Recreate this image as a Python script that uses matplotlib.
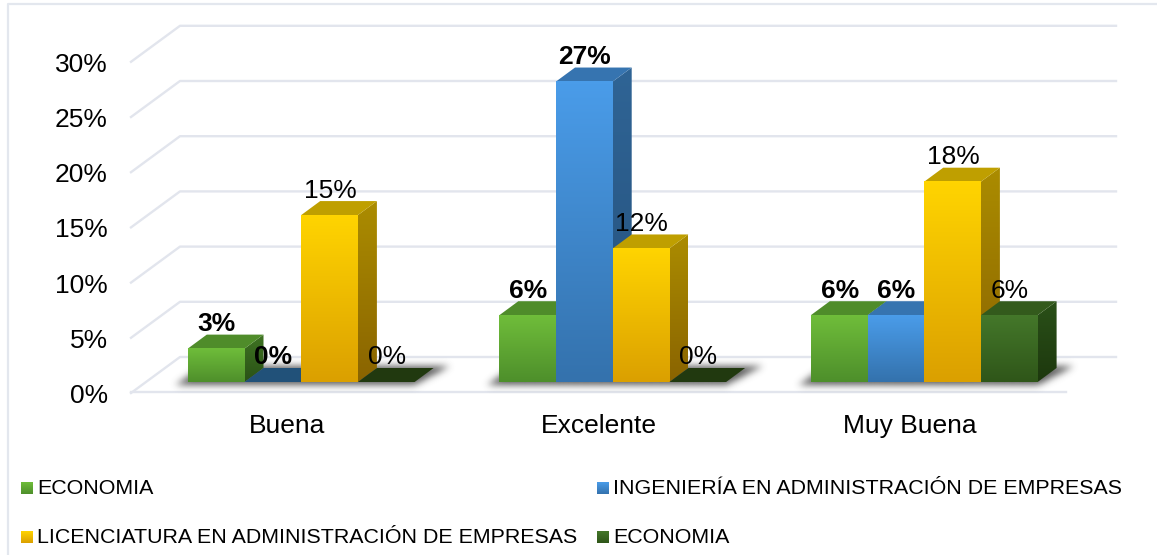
import numpy as np
import matplotlib
matplotlib.use('Agg')
import matplotlib.pyplot as plt
from matplotlib.colors import LinearSegmentedColormap
from matplotlib.patches import Polygon

categories = ['Buena', 'Excelente', 'Muy Buena']
series_names = ['ECONOMIA', 'INGENIERÍA EN ADMINISTRACIÓN DE EMPRESAS',
                'LICENCIATURA EN ADMINISTRACIÓN DE EMPRESAS', 'ECONOMIA']
economia = [3, 6, 6]
ingenieria = [0, 27, 6]
licenciatura = [15, 12, 18]
economia2 = [0, 0, 6]
y_ticks = [0, 5, 10, 15, 20, 25, 30]

series = [economia, ingenieria, licenciatura, economia2]
bold_labels = [True, True, False, False]

# front top, front bottom, top face, side top, side bottom
colors = [
    ('#6FBD3A', '#4E8F2B', '#4F8C2A', '#3F7323', '#2A5216'),
    ('#4A9CE9', '#3472AD', '#3674B0', '#2F6495', '#25517C'),
    ('#FFD400', '#DBA000', '#BF9F00', '#AB8C00', '#8A6400'),
    ('#44772A', '#2F5619', '#335A1C', '#2A5018', '#1D380E'),
]
flat_colors = ['#4F8C2A', '#215179', '#BF9F00', '#21390F']

# pixel scale of the picture
W, H = 1157, 555
PX_X = 311.5   # pixels per category
PX_Y = 11.04   # pixels per percent
BASE_X = 301.2
BASE_Y = 382
BAR_SCALE = 1.008  # bars are nearer the viewer than the back wall
BAR_W = 56.7 / PX_X
DX = 19 / PX_X
DY = 14 / PX_Y

plt.rcParams['font.family'] = ['Liberation Sans', 'DejaVu Sans']

fig = plt.figure(figsize=(W / 100, H / 100), dpi=100)
ax = fig.add_axes([0, 0, 1, 1])
ax.axis('off')


def px(x):
    return (x - BASE_X) / PX_X


def py(y):
    return (BASE_Y - y) / PX_Y


def gradient(top, bottom, extent, clip=None, zorder=3):
    cmap = LinearSegmentedColormap.from_list('g', [top, bottom])
    im = ax.imshow(np.linspace(0, 1, 64).reshape(-1, 1), cmap=cmap, extent=extent,
                   aspect='auto', origin='upper', interpolation='bilinear', zorder=zorder)
    if clip is not None:
        clip.set_transform(ax.transData)
        im.set_clip_path(clip)


def soft_shadow(i):
    # blurred floor shadow under one group of bars, built on a small pixel grid
    pad = 30
    left = BASE_X + i * PX_X - 2 * BAR_W * PX_X
    right = BASE_X + i * PX_X + 2 * BAR_W * PX_X
    x0, x1 = int(left) - pad, int(right) + 19 + pad + 14
    y0, y1 = BASE_Y - 16 - pad, BASE_Y + 2 + pad
    xx, yy = np.meshgrid(np.arange(x0, x1), np.arange(y0, y1))
    t = (BASE_Y + 2 - yy) / 18
    mask = (t >= 0) & (t <= 1) & (xx >= left - 12 + 26 * t) & (xx <= right + 34 * t)
    blur = mask.astype(float)
    kernel = np.exp(-np.arange(-12, 13) ** 2 / (2 * 3.6 ** 2))
    kernel /= kernel.sum()
    blur = np.apply_along_axis(np.convolve, 0, blur, kernel, mode='same')
    blur = np.apply_along_axis(np.convolve, 1, blur, kernel, mode='same')
    rgba = np.zeros(blur.shape + (4,))
    rgba[..., :3] = 0.2
    rgba[..., 3] = blur * 0.8
    ax.imshow(rgba, extent=[px(x0), px(x1), py(y1), py(y0)], aspect='auto', origin='upper',
              interpolation='bilinear', zorder=2)


# chart border
ax.plot([px(8), px(8), px(W)], [py(H), py(4.5), py(4.5)], color='#E3E7EE', lw=1.6, zorder=0)

# back wall gridlines, side wall and floor
for t in y_ticks:
    yb = py(357) + t
    ax.plot([px(131), px(180), px(1116)], [yb - 36 / PX_Y, yb, yb], color='#E2E5ED', lw=1.7, zorder=1)
ax.plot([px(131), px(1066)], [py(392), py(392)], color='#E2E5ED', lw=1.7, zorder=1)

# tick labels
for t in y_ticks:
    ax.text(px(108), py(396) + t, f'{t}%', ha='right', va='center', fontsize=19, color='#000000')
for i, c in enumerate(categories):
    ax.text(i - 14.2 / PX_X, py(426), c, ha='center', va='center', fontsize=19, color='#000000')

for i in range(len(categories)):
    soft_shadow(i)

# bars, one face at a time
for j, values in enumerate(series):
    ft, fb, top, st, sb = colors[j]
    for i, v in enumerate(values):
        x0 = i + (j - 2) * BAR_W
        x1 = x0 + BAR_W
        h = v * BAR_SCALE
        z = 3 + j * 0.1
        if v == 0:
            ax.add_patch(Polygon([(x0, 0), (x1, 0), (x1 + DX, DY), (x0 + DX, DY)],
                                 closed=True, fc=flat_colors[j], ec='none', zorder=z))
            continue
        gradient(st, sb, [x1, x1 + DX, 0, h + DY],
                 Polygon([(x1, 0), (x1 + DX, DY), (x1 + DX, h + DY), (x1, h)], closed=True), z)
        ax.add_patch(Polygon([(x0, h), (x1, h), (x1 + DX, h + DY), (x0 + DX, h + DY)],
                             closed=True, fc=top, ec='none', zorder=z))
        gradient(ft, fb, [x0, x1, 0, h], zorder=z + 0.01)

# data labels
for j, values in enumerate(series):
    for i, v in enumerate(values):
        xc = i + (j - 1.5) * BAR_W + 0.5 / PX_X
        ax.text(xc, v * BAR_SCALE + 24.5 / PX_Y, f'{v}%', ha='center', va='center', fontsize=19,
                fontweight='bold' if bold_labels[j] else 'normal', color='#000000', zorder=6)

# legend
legend_pos = [(21, 488), (597, 488), (21, 537), (597, 537)]
for j, name in enumerate(series_names):
    lx, ly = legend_pos[j]
    gradient(colors[j][0], colors[j][1], [px(lx), px(lx + 12), py(ly + 6), py(ly - 6)], zorder=5)
    ax.text(px(lx + 16), py(ly + 0.5), name, ha='left', va='center', fontsize=15.4, color='#000000')

ax.set_xlim(px(0), px(W))
ax.set_ylim(py(H), py(0))

fig.savefig('out.png', dpi=100, facecolor='white')
